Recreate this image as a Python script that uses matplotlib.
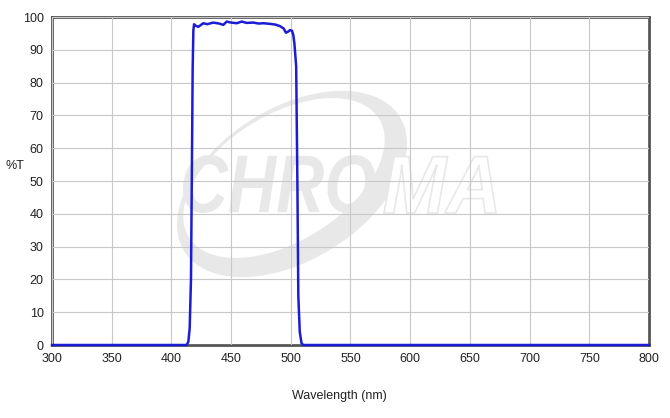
import numpy as np
import matplotlib
matplotlib.use('Agg')
import matplotlib.pyplot as plt
from matplotlib.patches import PathPatch
from matplotlib.path import Path
from matplotlib.textpath import TextPath
from matplotlib.font_manager import FontProperties
from matplotlib.transforms import Affine2D, IdentityTransform

wavelength = [300, 412.8, 414.2, 415.3, 416.4, 417.3, 417.8, 418.4, 419, 420, 422.5,
              426.7, 430, 435, 440, 443.5, 446.3, 450, 454.7, 458.9, 463, 468.6,
              473, 477, 482.6, 487, 491, 494, 496, 498, 499.3, 501, 502.1, 503,
              504.5, 505.5, 506.3, 507.5, 509, 510.5, 800]
transmission = [0, 0, 1, 5, 20, 60, 84, 96, 97.8, 97.4, 97.0,
                 98.1, 97.8, 98.3, 98.0, 97.6, 98.6, 98.3, 98.1, 98.6, 98.2, 98.3,
                 98.0, 98.1, 97.9, 97.7, 97.2, 96.5, 95.2, 95.6, 96.0, 95.8, 94.5, 92,
                 85, 50, 15, 4, 0.5, 0, 0]

xticks = np.arange(300, 801, 50)
yticks = np.arange(0, 101, 10)

plt.rcParams['font.family'] = ['Liberation Sans', 'DejaVu Sans']

fig = plt.figure(figsize=(6.7, 4.18), dpi=100)
ax = fig.add_axes([52 / 670, 1 - 345 / 418, 597 / 670, 328 / 418])

# watermark (pixel coords, origin bottom-left)
H = 418
def px(x, y):
    return x, H - y

gray = '#e8e8e8'
t = np.linspace(0, 2 * np.pi, 200)
def ell(cx, cy, a, b, ang):
    r = np.deg2rad(ang)
    xs = cx + a * np.cos(t) * np.cos(r) - b * np.sin(t) * np.sin(r)
    ys = cy + a * np.cos(t) * np.sin(r) + b * np.sin(t) * np.cos(r)
    return np.column_stack([xs, ys])

cx, cy = px(292, 184)
outer = ell(cx, cy, 127, 76, 32)
inner = ell(cx - 8, cy + 6, 112, 63, 32)[::-1]
verts = np.vstack([outer, [[0, 0]], inner, [[0, 0]]])
codes = ([Path.MOVETO] + [Path.LINETO] * (len(outer) - 1) + [Path.CLOSEPOLY]
         + [Path.MOVETO] + [Path.LINETO] * (len(inner) - 1) + [Path.CLOSEPOLY])
ring = PathPatch(Path(verts, codes), facecolor=gray, edgecolor='none',
                 transform=IdentityTransform(), zorder=0.1)
ax.add_patch(ring)

fp = FontProperties(family='Liberation Sans', weight='bold', style='italic')
tp1 = TextPath((0, 0), 'CHRO', size=80, prop=fp)
tp2 = TextPath((0, 0), 'MA', size=80, prop=fp)
ext1 = tp1.get_extents()
ext2 = tp2.get_extents()
s1 = 192 / ext1.width
sy = 58 / ext1.height
bx, by = px(183, 213)
tr1 = Affine2D().translate(-ext1.x0, -ext1.y0).scale(s1, sy).translate(bx, by)
ax.add_patch(PathPatch(tr1.transform_path(tp1), facecolor=gray, edgecolor='none',
                       transform=IdentityTransform(), zorder=0.15))
s2 = 112 / ext2.width
bx2, _ = px(384, 213)
tr2 = Affine2D().translate(-ext2.x0, -ext2.y0).scale(s2, sy).translate(bx2, by)
ax.add_patch(PathPatch(tr2.transform_path(tp2), facecolor='white', edgecolor=gray,
                       linewidth=1.2, transform=IdentityTransform(), zorder=0.15))

ax.plot(wavelength, transmission, color='#1c1cd4', linewidth=1.8, clip_on=False, zorder=3)

ax.set_xlim(300, 800)
ax.set_ylim(0, 100)
ax.set_xticks(xticks)
ax.set_yticks(yticks)
ax.set_axisbelow(False)
ax.grid(True, color='#c8c8c8', linewidth=0.8, zorder=1)
for gl in ax.get_xgridlines() + ax.get_ygridlines():
    gl.set_zorder(1)
ax.tick_params(length=0, labelsize=9, colors='#222222', pad=6)
for s in ax.spines.values():
    s.set_color('#555555')
    s.set_linewidth(2)
    s.set_zorder(2.5)

fig.text(5 / 670, 1 - 166 / 418, '%T', fontsize=9, color='#222222', va='center', ha='left')
fig.text(339 / 670, 1 - 396 / 418, 'Wavelength (nm)', fontsize=9, color='#222222',
         va='center', ha='center')

fig.savefig('out.png', dpi=100)
